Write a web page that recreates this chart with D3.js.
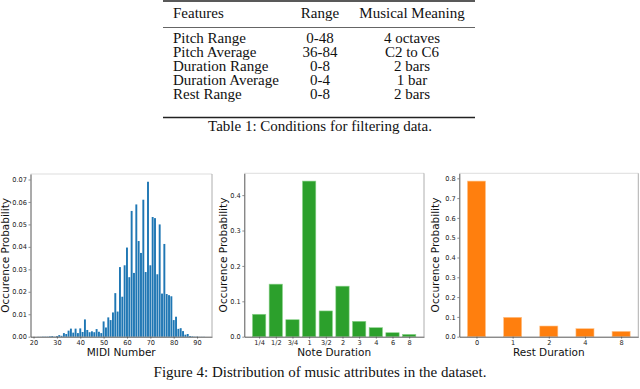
<!DOCTYPE html>
<html>
<head>
<meta charset="utf-8">
<script src="https://cdn.jsdelivr.net/npm/d3@7"></script>
<style>
  html, body { margin: 0; padding: 0; background: #fff; }
  svg { display: block; }
</style>
</head>
<body>
<div id="page"></div>
<script>
// table 1
const tableHeader = ['Features', 'Range', 'Musical Meaning'];
const tableFeatures = ['Pitch Range', 'Pitch Average', 'Duration Range', 'Duration Average', 'Rest Range'];
const tableRanges = ['0-48', '36-84', '0-8', '0-4', '0-8'];
const tableMeanings = ['4 octaves', 'C2 to C6', '2 bars', '1 bar', '2 bars'];
const tableCaption = 'Table 1: Conditions for filtering data.';

// figure 4, left panel: pitch histogram
const midiNumbers = [
  22, 23, 24, 25, 26, 27, 28, 29, 30, 31, 32, 33, 34, 35, 36, 37, 38, 39,
  40, 41, 42, 43, 44, 45, 46, 47, 48, 49, 50, 51, 52, 53, 54, 55, 56, 57,
  58, 59, 60, 61, 62, 63, 64, 65, 66, 67, 68, 69, 70, 71, 72, 73, 74, 75,
  76, 77, 78, 79, 80, 81, 82, 83, 84, 85, 86, 87, 88, 89, 90, 91, 92, 93
];
const midiProbability = [
  0.00005, 0.00005, 0.0001, 0.0001, 0.0001, 0.0002, 0.0003, 0.0001, 0.0003,
  0.0007, 0.0004, 0.0016, 0.0012, 0.0027, 0.0036, 0.0018, 0.0036, 0.0016,
  0.0037, 0.0021, 0.0077, 0.0030, 0.0020, 0.0024, 0.0020, 0.0034, 0.0022,
  0.0016, 0.0068, 0.0041, 0.0086, 0.0074, 0.0108, 0.0194, 0.0112, 0.0310,
  0.0178, 0.0318, 0.0397, 0.0265, 0.0560, 0.0284, 0.0589, 0.0426, 0.0373,
  0.0610, 0.0288, 0.0690, 0.0318, 0.0533, 0.0528, 0.0278, 0.0500, 0.0192,
  0.0413, 0.0190, 0.0185, 0.0180, 0.0074, 0.0089, 0.0035, 0.0038, 0.0025,
  0.0009, 0.0012, 0.0003, 0.0002, 0.0001, 0.0001, 0.00005, 0.00005, 0.00005
];
const midiTicks = [20, 30, 40, 50, 60, 70, 80, 90];
const midiYTicks = [0, 0.01, 0.02, 0.03, 0.04, 0.05, 0.06, 0.07];

// middle panel: note durations
const noteDurations = ['1/4', '1/2', '3/4', '1', '3/2', '2', '3', '4', '6', '8'];
const noteProbability = [0.0634, 0.1485, 0.048, 0.4397, 0.0728, 0.1428, 0.0435, 0.0255, 0.0113, 0.0066];
const noteYTicks = [0, 0.1, 0.2, 0.3, 0.4];

// right panel: rest durations
const restDurations = ['0', '1', '2', '4', '8'];
const restProbability = [0.786, 0.098, 0.054, 0.0406, 0.027];
const restYTicks = [0, 0.1, 0.2, 0.3, 0.4, 0.5, 0.6, 0.7, 0.8];

const figureCaption = 'Figure 4: Distribution of music attributes in the dataset.';

const width = 640;
const height = 389;
const serif = '"Liberation Serif", "Times New Roman", serif';
const sans = '"DejaVu Sans", sans-serif';

const svg = d3
  .select('#page')
  .append('svg')
  .attr('width', width)
  .attr('height', height);

svg.append('rect').attr('width', width).attr('height', height).attr('fill', '#fff');

// ---- table ----
const table = {
  left: 163,
  right: 475,
  colFeature: 173,
  colRange: 320,
  colMeaning: 412,
  headerY: 17.5,
  firstRowY: 43.3,
  rowStep: 14,
  fontSize: 15
};

const tbl = svg.append('g').attr('class', 'table').style('font-family', serif).style('font-size', table.fontSize + 'px').attr('fill', '#111');

[[1, 1.3], [27.5, 0.7], [117.5, 1.3]].forEach(([y, w]) => {
  tbl.append('line')
    .attr('x1', table.left).attr('x2', table.right)
    .attr('y1', y).attr('y2', y)
    .attr('stroke', '#222').attr('stroke-width', w);
});

tbl.append('text').attr('x', table.colFeature).attr('y', table.headerY).text(tableHeader[0]);
tbl.append('text').attr('x', table.colRange).attr('y', table.headerY).attr('text-anchor', 'middle').text(tableHeader[1]);
tbl.append('text').attr('x', table.colMeaning).attr('y', table.headerY).attr('text-anchor', 'middle').text(tableHeader[2]);

const rows = tbl.selectAll('g.row')
  .data(d3.zip(tableFeatures, tableRanges, tableMeanings))
  .join('g')
  .attr('class', 'row')
  .attr('transform', (d, i) => `translate(0, ${table.firstRowY + i * table.rowStep})`);

rows.append('text').attr('x', table.colFeature).text(d => d[0]);
rows.append('text').attr('x', table.colRange).attr('text-anchor', 'middle').text(d => d[1]);
rows.append('text').attr('x', table.colMeaning).attr('text-anchor', 'middle').text(d => d[2]);

tbl.append('text')
  .attr('x', 320).attr('y', 131)
  .attr('text-anchor', 'middle')
  .text(tableCaption);

// ---- bar panels ----
function drawPanel(cfg) {
  const g = svg.append('g').attr('class', 'panel').style('font-family', sans);

  const x = d3.scaleLinear().domain(cfg.xDomain).range([cfg.left, cfg.right]);
  const ymax = d3.max(cfg.values) * 1.05;
  const y = d3.scaleLinear().domain([0, ymax]).range([cfg.bottom, cfg.top]);

  g.append('g')
    .selectAll('rect')
    .data(d3.zip(cfg.positions, cfg.values))
    .join('rect')
    .attr('x', ([p]) => x(p - cfg.barWidth / 2))
    .attr('width', ([p]) => x(p + cfg.barWidth / 2) - x(p - cfg.barWidth / 2))
    .attr('y', ([, v]) => y(v))
    .attr('height', ([, v]) => y(0) - y(v))
    .attr('fill', cfg.color)
    .attr('stroke', cfg.edge || 'none')
    .attr('stroke-width', cfg.edge ? 0.6 : 0);

  // frame (top/right lighter like the scanned figure)
  g.append('line').attr('x1', cfg.left).attr('x2', cfg.right).attr('y1', cfg.top).attr('y2', cfg.top)
    .attr('stroke', '#d4d4d4').attr('stroke-width', 0.8);
  g.append('line').attr('x1', cfg.right).attr('x2', cfg.right).attr('y1', cfg.top).attr('y2', cfg.bottom)
    .attr('stroke', '#999').attr('stroke-width', 0.8);

  const xAxis = d3.axisBottom(x)
    .tickValues(cfg.xTicks)
    .tickFormat(cfg.xFormat)
    .tickSizeInner(2)
    .tickSizeOuter(0)
    .tickPadding(1.5);

  const yAxis = d3.axisLeft(y)
    .tickValues(cfg.yTicks)
    .tickFormat(d3.format(cfg.yFormat))
    .tickSizeInner(2)
    .tickSizeOuter(0)
    .tickPadding(1.5);

  const gx = g.append('g')
    .attr('transform', `translate(0, ${cfg.bottom})`)
    .call(xAxis);
  const gy = g.append('g')
    .attr('transform', `translate(${cfg.left}, 0)`)
    .call(yAxis);

  [gx, gy].forEach(a => {
    a.select('.domain').attr('stroke', '#444').attr('stroke-width', 0.9);
    a.selectAll('.tick line').attr('stroke', '#444').attr('stroke-width', 0.6);
    a.selectAll('.tick text')
      .attr('fill', '#222')
      .style('font-family', sans)
      .style('font-size', '6.6px');
  });

  g.append('text')
    .attr('x', (cfg.left + cfg.right) / 2)
    .attr('y', 355.5)
    .attr('text-anchor', 'middle')
    .style('font-size', '10.5px')
    .attr('fill', '#111')
    .text(cfg.xLabel);

  g.append('text')
    .attr('transform', `translate(${cfg.yLabelX}, ${(cfg.top + cfg.bottom) / 2}) rotate(-90)`)
    .attr('text-anchor', 'middle')
    .style('font-size', '10.5px')
    .attr('fill', '#111')
    .text('Occurence Probability');
}

drawPanel({
  left: 30.5, right: 212, top: 174, bottom: 336.7,
  xDomain: [18.7, 96.4],
  positions: midiNumbers,
  values: midiProbability,
  barWidth: 0.82,
  color: '#1f77b4',
  xTicks: midiTicks,
  xFormat: d3.format('d'),
  yTicks: midiYTicks,
  yFormat: '.2f',
  xLabel: 'MIDI Number',
  yLabelX: 8.5
});

drawPanel({
  left: 244.3, right: 424, top: 173.3, bottom: 336.7,
  xDomain: [-0.89, 9.89],
  positions: noteDurations.map((d, i) => i),
  values: noteProbability,
  barWidth: 0.8,
  color: '#2ca02c',
  edge: '#8ed48e',
  xTicks: noteDurations.map((d, i) => i),
  xFormat: i => noteDurations[i],
  yTicks: noteYTicks,
  yFormat: '.1f',
  xLabel: 'Note Duration',
  yLabelX: 226.5
});

drawPanel({
  left: 459.3, right: 638.3, top: 173.3, bottom: 336.7,
  xDomain: [-0.475, 4.475],
  positions: restDurations.map((d, i) => i),
  values: restProbability,
  barWidth: 0.5,
  color: '#ff7f0e',
  edge: '#ffc58f',
  xTicks: restDurations.map((d, i) => i),
  xFormat: i => restDurations[i],
  yTicks: restYTicks,
  yFormat: '.1f',
  xLabel: 'Rest Duration',
  yLabelX: 439
});

svg.append('text')
  .attr('x', 320).attr('y', 377)
  .attr('text-anchor', 'middle')
  .style('font-family', serif)
  .style('font-size', '15px')
  .attr('fill', '#111')
  .text(figureCaption);
</script>
</body>
</html>
